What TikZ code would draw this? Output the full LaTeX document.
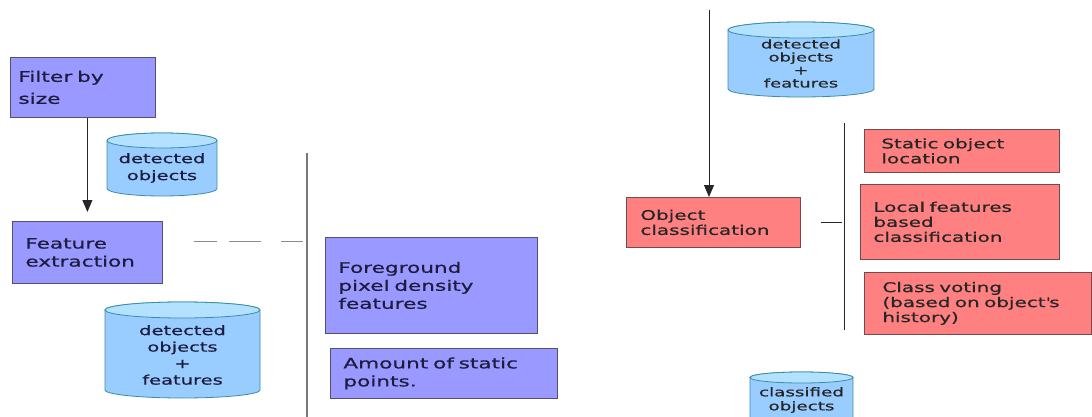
\documentclass[tikz,border=0pt]{standalone}
\usepackage{fontspec}
\setmainfont{DejaVu Sans}[FakeStretch=1.5, FakeBold=0.6]
\usetikzlibrary{arrows.meta}

\definecolor{boxblue}{RGB}{153,153,255}
\definecolor{boxblueline}{RGB}{80,80,115}
\definecolor{boxred}{RGB}{255,128,128}
\definecolor{boxredline}{RGB}{115,75,75}
\definecolor{cylbody}{RGB}{153,204,255}
\definecolor{cyltop}{RGB}{178,226,255}
\definecolor{cylline}{RGB}{60,140,165}
\definecolor{txtblue}{RGB}{28,28,62}
\definecolor{splitgray}{RGB}{120,120,120}

% cylinder symbol: centre x, x radius, top, bottom, end radius
\newcommand\dbcyl[5]{%
  \filldraw[cylshape, fill=cylbody]
    ({#1-#2},{#3+#5}) -- ({#1-#2},{#4-#5})
    arc[start angle=180, end angle=360, x radius=#2pt, y radius=#5pt]
    -- ({#1+#2},{#3+#5})
    arc[start angle=0, end angle=180, x radius=#2pt, y radius=#5pt] -- cycle;
  \filldraw[cylshape, fill=cyltop] (#1,{#3+#5}) ellipse[x radius=#2pt, y radius=#5pt];
}

\tikzset{
  stagebox/.style={draw=boxblueline, fill=boxblue, line width=0.8pt,
    anchor=north west, align=left, text=txtblue, inner ysep=2pt,
    font=\fontsize{14.4}{18}\selectfont},
  classbox/.style={draw=boxredline, fill=boxred, line width=0.8pt,
    anchor=north west, align=left, text=black!85, inner ysep=2pt,
    font=\fontsize{13.3}{15}\selectfont},
  cylshape/.style={draw=cylline, line width=0.8pt},
  cyltext/.style={align=center, text=txtblue, inner sep=0pt},
  flowarrow/.style={draw=black!85, line width=1pt, -{Triangle[width=10pt,length=12pt]}},
  featlink/.style={draw=black!45, line width=1.5pt, dash pattern=on 23pt off 12pt on 32pt off 20pt},
  splitline/.style={draw=splitgray, line width=1.5pt},
  classsplit/.style={draw=black!85, line width=0.8pt},
}

\begin{document}
\begin{tikzpicture}[x=1pt, y=-1pt]
\clip (0,0) rectangle (1092,417);
\useasboundingbox (0,0) rectangle (1092,417);

% feature extraction stage
\node[stagebox, minimum width=145pt, minimum height=60pt, inner xsep=8pt,
      text width=129pt, font=\fontsize{14.5}{22}\selectfont] (filter) at (10,57)
  {Filter by\\size};
\node[stagebox, minimum width=150pt, minimum height=62pt, inner xsep=13pt,
      text width=124pt] (featx) at (12,221)
  {Feature\\extraction};
\node[stagebox, minimum width=212pt, minimum height=96pt, inner xsep=13pt,
      text width=186pt] (fgpix) at (325,237)
  {Foreground\\pixel density\\features};
\node[stagebox, minimum width=227pt, minimum height=50pt, inner xsep=13pt,
      text width=201pt] (statpts) at (330,348)
  {Amount of static\\points.};

\dbcyl{162}{55}{133}{196}{7.5}
\node[cyltext, font=\fontsize{13}{17}\selectfont] (dbdet) at (162,168)
  {detected\\objects};
\dbcyl{182.5}{77.5}{302}{398}{8}
\node[cyltext, font=\fontsize{13}{16.5}\selectfont] (dbfeat) at (182.5,355)
  {detected\\objects\\+\\features};

\draw[flowarrow, shorten >=9pt] (featx.north |- filter.south) -- (featx.north);

\coordinate (splitLtop) at (307,153);
\coordinate (splitLbot) at (307,417);
\draw[splitline] (splitLtop) -- (splitLbot);
\path (featx.east) ++(31,-11) coordinate (dashA);
\coordinate (dashB) at (dashA -| splitLtop);
\draw[featlink] (dashA) -- ([xshift=-4pt]dashB);

% classification stage
\dbcyl{801}{73}{22}{97}{8}
\node[cyltext, text=black!85, font=\fontsize{12}{13}\selectfont] (dbfeatR) at (801,63.5)
  {detected\\objects\\+\\features};

\node[classbox, minimum width=174pt, minimum height=50pt, inner xsep=14pt,
      text width=146pt] (objcls) at (626,197)
  {Object\\classification};
\node[classbox, minimum width=195pt, minimum height=43pt, inner xsep=17pt,
      text width=161pt] (statloc) at (864,129)
  {Static object\\location};
\node[classbox, minimum width=199pt, minimum height=75pt, inner xsep=13pt,
      text width=173pt] (locfeat) at (860,184)
  {Local features\\based\\classification};
\node[classbox, minimum width=227pt, minimum height=62pt, inner xsep=18pt,
      text width=191pt] (vote) at (864,272)
  {Class voting\\(based on object\textquotesingle s\\history)};

\coordinate (feedin) at (709,10);
\draw[flowarrow] (feedin) -- (feedin |- objcls.north);

\coordinate (splitRtop) at (844,123);
\coordinate (splitRbot) at (844,330);
\draw[classsplit] (splitRtop) -- (splitRbot);
\path (objcls.east) ++(20,0) coordinate (clsA);
\coordinate (clsB) at (clsA -| splitRtop);
\draw[classsplit] (clsA) -- ([xshift=-2pt]clsB);

\dbcyl{801.5}{51.5}{372}{450}{5.5}
\node[cyltext, text=black!85, font=\fontsize{12.2}{14}\selectfont] (dbcls) at (801.5,400)
  {classified\\objects};
\end{tikzpicture}
\end{document}
